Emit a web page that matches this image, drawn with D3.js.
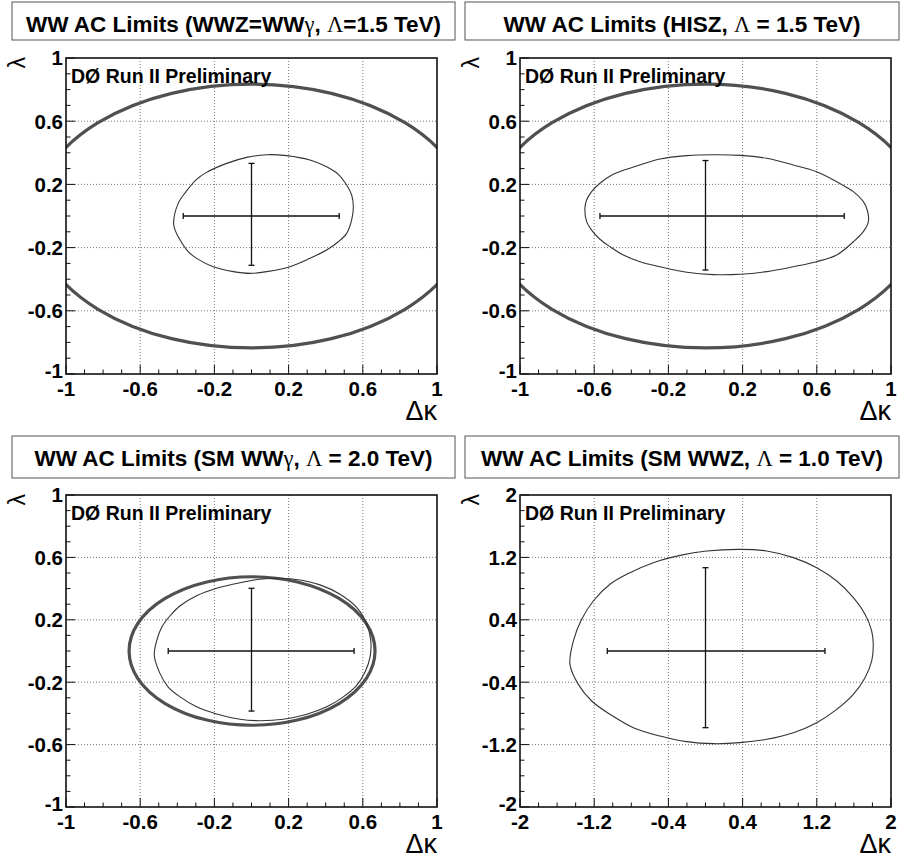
<!DOCTYPE html>
<html>
<head>
<meta charset="utf-8">
<title>WW AC Limits</title>
<script src="https://d3js.org/d3.v7.min.js"></script>
<style>
  body { margin: 0; background: #fff; }
  svg text { font-family: "Liberation Sans", Arial, sans-serif; }
</style>
</head>
<body>
<div class="box"></div>
<script>
// ---- data ----
var titles = [
    "WW AC Limits (WWZ=WWγ, Λ=1.5 TeV)",
    "WW AC Limits (HISZ, Λ = 1.5 TeV)",
    "WW AC Limits (SM WWγ, Λ = 2.0 TeV)",
    "WW AC Limits (SM WWZ, Λ = 1.0 TeV)"
];
var axisMax = [1, 1, 1, 2];
var ticksNarrow = [-1, -0.6, -0.2, 0.2, 0.6, 1];
var ticksWide = [-2, -1.2, -0.4, 0.4, 1.2, 2];

// 95% C.L. contours, [dk, lambda]
var contourWWZeqWWg = [[-0.420,-0.046],[-0.395,0.080],[-0.353,0.154],[-0.296,0.232],[-0.242,0.276],[-0.134,0.333],
    [-0.026,0.371],[0.082,0.388],[0.190,0.382],[0.315,0.354],[0.405,0.312],[0.468,0.264],[0.513,0.196],[0.540,0.133],
    [0.549,0.059],[0.540,-0.025],[0.513,-0.110],[0.468,-0.163],[0.405,-0.215],[0.315,-0.268],[0.208,-0.321],[0.082,-0.352],
    [-0.008,-0.363],[-0.098,-0.352],[-0.206,-0.321],[-0.296,-0.268],[-0.341,-0.226],[-0.385,-0.152],[-0.412,-0.089]];
var contourHISZ = [[-0.650,0.049],[-0.641,0.101],[-0.614,0.154],[-0.569,0.207],[-0.497,0.264],[-0.371,0.316],[-0.245,0.361],
    [-0.101,0.382],[0.042,0.388],[0.186,0.384],[0.330,0.365],[0.473,0.323],[0.599,0.280],[0.707,0.217],[0.797,0.154],
    [0.851,0.091],[0.872,0.038],[0.878,-0.036],[0.851,-0.099],[0.797,-0.163],[0.707,-0.247],[0.599,-0.289],[0.473,-0.321],
    [0.330,-0.352],[0.186,-0.369],[0.042,-0.371],[-0.101,-0.356],[-0.245,-0.321],[-0.353,-0.289],[-0.443,-0.247],
    [-0.515,-0.194],[-0.569,-0.147],[-0.614,-0.089],[-0.641,-0.036]];
var contourSMWWg = [[-0.524,-0.029],[-0.511,0.067],[-0.484,0.152],[-0.439,0.226],[-0.385,0.290],[-0.296,0.354],[-0.188,0.402],
    [-0.062,0.438],[0.046,0.460],[0.154,0.466],[0.261,0.455],[0.369,0.424],[0.477,0.364],[0.567,0.279],[0.621,0.173],
    [0.643,0.067],[0.639,-0.039],[0.612,-0.135],[0.567,-0.220],[0.495,-0.294],[0.405,-0.358],[0.298,-0.406],[0.171,-0.438],
    [0.046,-0.447],[-0.062,-0.438],[-0.188,-0.404],[-0.296,-0.358],[-0.385,-0.294],[-0.449,-0.231],[-0.493,-0.145]];
var contourSMWWZ = [[-1.461,-0.171],[-1.425,0.128],[-1.335,0.406],[-1.210,0.641],[-1.030,0.855],[-0.814,1.004],[-0.563,1.132],
    [-0.275,1.226],[0.013,1.282],[0.372,1.303],[0.660,1.282],[0.947,1.197],[1.199,1.068],[1.415,0.897],[1.594,0.684],
    [1.720,0.470],[1.792,0.256],[1.809,0.085],[1.792,-0.128],[1.720,-0.342],[1.594,-0.556],[1.415,-0.748],[1.199,-0.919],
    [0.947,-1.047],[0.660,-1.132],[0.372,-1.175],[0.084,-1.188],[-0.203,-1.162],[-0.491,-1.090],[-0.778,-0.983],
    [-1.030,-0.812],[-1.227,-0.641],[-1.371,-0.428]];

// 1D limits (cross), [low, high]
var dkLimits = [[-0.368, 0.473], [-0.569, 0.748], [-0.449, 0.553], [-1.059, 1.288]];
var lamLimits = [[-0.312, 0.333], [-0.342, 0.351], [-0.385, 0.402], [-0.983, 1.068]];

// unitarity bound ellipse: [dk centre, lambda centre, dk half-axis, lambda half-axis]
var unitarity = [[0, 0, 1.17, 0.835], [0, 0, 1.17, 0.835], [0.003, 0, 0.663, 0.476], null];

var contours = [contourWWZeqWWg, contourHISZ, contourSMWWg, contourSMWWZ];

// ---- layout ----
var width = 902, height = 863;
var frames = [
    {x0: 66, x1: 437, y0: 58, y1: 374, box: [12, 2, 455, 40], tb: 31.5},
    {x0: 520, x1: 891, y0: 58, y1: 374, box: [465, 2, 899, 40], tb: 31.5},
    {x0: 66, x1: 437, y0: 495, y1: 807, box: [12, 436, 455, 478], tb: 466},
    {x0: 520, x1: 891, y0: 495, y1: 807, box: [465, 436, 899, 478], tb: 466}
];
var serif = '"Liberation Serif", "Times New Roman", serif';

var svg = d3.select("div.box").append("svg")
    .attr("width", width)
    .attr("height", height)
    .style("display", "block");
svg.append("rect").attr("width", width).attr("height", height).attr("fill", "#fff");
var defs = svg.append("defs");

function drawTitle(g, text, f) {
    var b = f.box;
    g.append("rect")
        .attr("x", b[0]).attr("y", b[1])
        .attr("width", b[2] - b[0]).attr("height", b[3] - b[1])
        .attr("fill", "#fff").attr("stroke", "#555").attr("stroke-width", 1);
    var t = g.append("text")
        .attr("x", (b[0] + b[2]) / 2)
        .attr("y", f.tb)
        .attr("text-anchor", "middle")
        .attr("font-size", 22.5)
        .attr("font-weight", "bold");
    // greek letters come out in a roman serif face, like ROOT's TLatex
    text.split(/([γΛ])/).forEach(function(part) {
        if (!part) return;
        var s = t.append("tspan").text(part);
        if (part === "γ" || part === "Λ") {
            s.attr("font-family", serif).attr("font-weight", "normal");
        }
    });
}

frames.forEach(function(f, i) {
    var m = axisMax[i];
    var labels = m === 2 ? ticksWide : ticksNarrow;
    var x = d3.scaleLinear().domain([-m, m]).range([f.x0, f.x1]);
    var y = d3.scaleLinear().domain([-m, m]).range([f.y1, f.y0]);
    var g = svg.append("g");

    drawTitle(g, titles[i], f);

    defs.append("clipPath").attr("id", "clip" + i)
        .append("rect")
        .attr("x", f.x0).attr("y", f.y0)
        .attr("width", f.x1 - f.x0).attr("height", f.y1 - f.y0);

    // dotted grid at the labelled ticks
    var inner = labels.slice(1, -1);
    g.selectAll(".gx").data(inner).enter().append("line")
        .attr("x1", function(d) { return x(d); })
        .attr("x2", function(d) { return x(d); })
        .attr("y1", f.y0).attr("y2", f.y1)
        .attr("stroke", "#777").attr("stroke-width", 1)
        .attr("stroke-dasharray", "1,2");
    g.selectAll(".gy").data(inner).enter().append("line")
        .attr("y1", function(d) { return y(d); })
        .attr("y2", function(d) { return y(d); })
        .attr("x1", f.x0).attr("x2", f.x1)
        .attr("stroke", "#777").attr("stroke-width", 1)
        .attr("stroke-dasharray", "1,2");

    var plot = g.append("g").attr("clip-path", "url(#clip" + i + ")");

    // unitarity ellipse
    var u = unitarity[i];
    if (u) {
        plot.append("ellipse")
            .attr("cx", x(u[0])).attr("cy", y(u[1]))
            .attr("rx", x(u[0] + u[2]) - x(u[0]))
            .attr("ry", y(u[1]) - y(u[1] + u[3]))
            .attr("fill", "none")
            .attr("stroke", "#505050")
            .attr("stroke-width", 3.2);
    }

    // 95% CL contour
    var line = d3.line()
        .x(function(d) { return x(d[0]); })
        .y(function(d) { return y(d[1]); })
        .curve(d3.curveCatmullRomClosed.alpha(0.5));
    plot.append("path")
        .attr("d", line(contours[i]))
        .attr("fill", "none")
        .attr("stroke", "#333")
        .attr("stroke-width", 1.1);

    // 1D limits
    var dk = dkLimits[i], lm = lamLimits[i];
    var cross = g.append("g").attr("stroke", "#111").attr("stroke-width", 1.3);
    cross.append("line").attr("x1", x(dk[0])).attr("x2", x(dk[1])).attr("y1", y(0)).attr("y2", y(0));
    cross.append("line").attr("y1", y(lm[0])).attr("y2", y(lm[1])).attr("x1", x(0)).attr("x2", x(0));
    dk.forEach(function(v) {
        cross.append("line").attr("x1", x(v)).attr("x2", x(v)).attr("y1", y(0) - 3).attr("y2", y(0) + 3);
    });
    lm.forEach(function(v) {
        cross.append("line").attr("y1", y(v)).attr("y2", y(v)).attr("x1", x(0) - 3).attr("x2", x(0) + 3);
    });

    // frame
    g.append("rect")
        .attr("x", f.x0).attr("y", f.y0)
        .attr("width", f.x1 - f.x0).attr("height", f.y1 - f.y0)
        .attr("fill", "none").attr("stroke", "#111").attr("stroke-width", 1.6);

    // ticks: minor every tenth, major at labels
    var minor = x.ticks(20);
    var isMajor = function(d) {
        return labels.some(function(l) { return Math.abs(l - d) < 1e-6; });
    };
    g.selectAll(".tx").data(minor).enter().append("line")
        .attr("x1", function(d) { return x(d); })
        .attr("x2", function(d) { return x(d); })
        .attr("y1", f.y1)
        .attr("y2", function(d) { return f.y1 - (isMajor(d) ? 9 : 4.5); })
        .attr("stroke", "#111").attr("stroke-width", 1);
    g.selectAll(".ty").data(minor).enter().append("line")
        .attr("y1", function(d) { return y(d); })
        .attr("y2", function(d) { return y(d); })
        .attr("x1", f.x0)
        .attr("x2", function(d) { return f.x0 + (isMajor(d) ? 9 : 4.5); })
        .attr("stroke", "#111").attr("stroke-width", 1);

    // tick labels
    g.selectAll(".lx").data(labels).enter().append("text")
        .attr("x", function(d) { return x(d); })
        .attr("y", f.y1 + 22)
        .attr("text-anchor", "middle")
        .attr("font-size", 20.5)
        .attr("font-weight", "bold")
        .text(function(d) { return d; });
    g.selectAll(".ly").data(labels).enter().append("text")
        .attr("x", f.x0 - 3)
        .attr("y", function(d) { return y(d); })
        .attr("dy", function(d, k) { return k === 0 ? "0.2em" : "0.36em"; })
        .attr("text-anchor", "end")
        .attr("font-size", 20.5)
        .attr("font-weight", "bold")
        .text(function(d) { return d; });

    // axis titles
    g.append("text")
        .attr("x", f.x1)
        .attr("y", f.y1 + 46)
        .attr("text-anchor", "end")
        .attr("font-family", serif)
        .attr("font-size", 27)
        .text("Δκ");
    g.append("text")
        .attr("transform", "translate(" + (f.x0 - 41) + "," + (f.y0 - 1) + ") rotate(-90)")
        .attr("text-anchor", "end")
        .attr("font-family", serif)
        .attr("font-size", 23)
        .text("λ");

    // experiment label
    g.append("text")
        .attr("x", f.x0 + 5)
        .attr("y", f.y0 + 25)
        .attr("font-size", 19.5)
        .attr("font-weight", "bold")
        .text("DØ Run II Preliminary");
});
</script>
</body>
</html>
